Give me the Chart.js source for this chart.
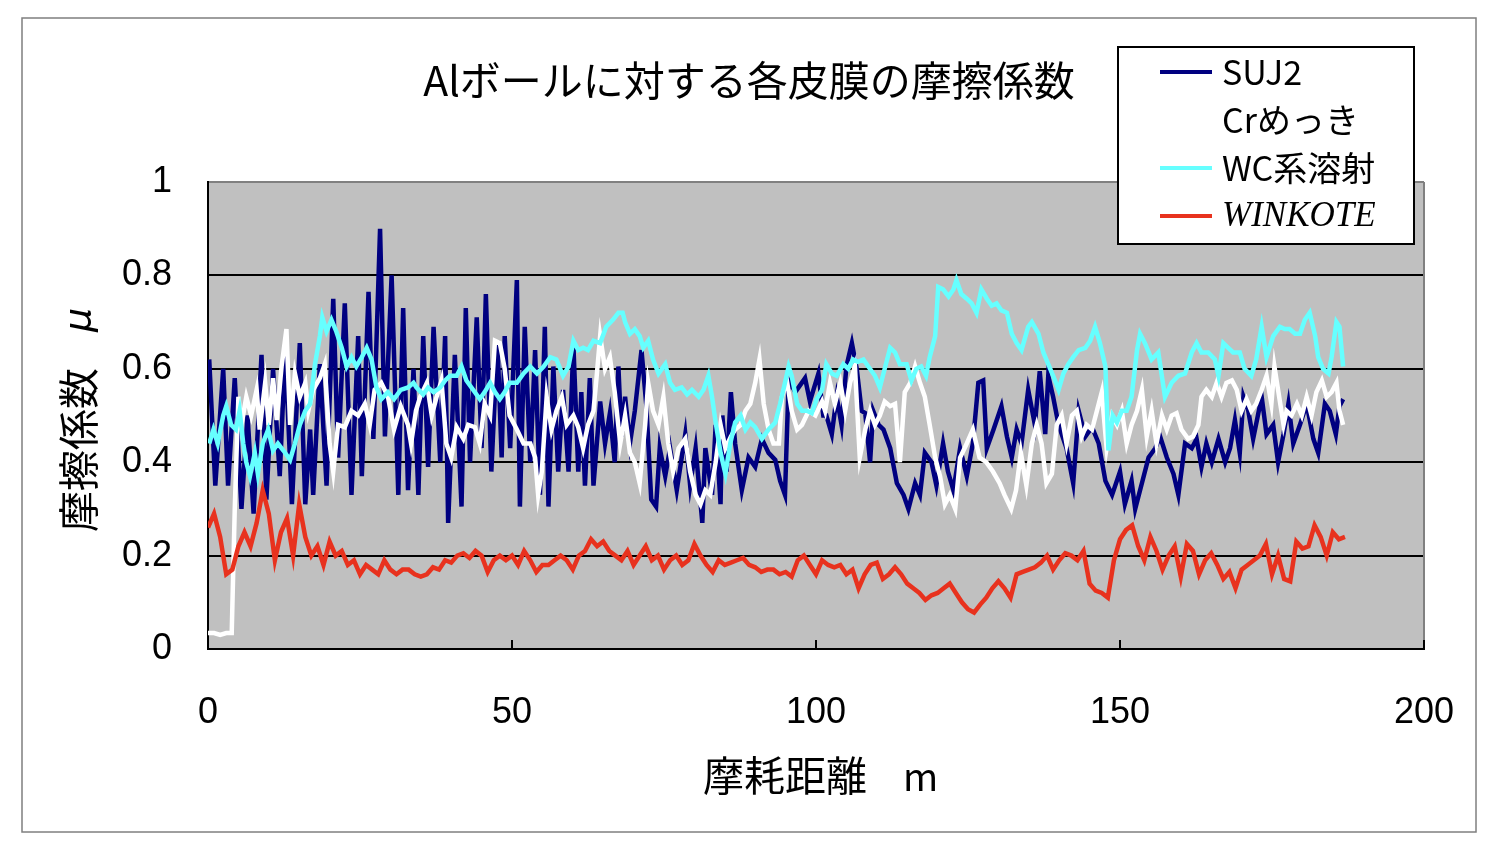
<!DOCTYPE html>
<html><head><meta charset="utf-8">
<script src="https://cdn.jsdelivr.net/npm/chart.js@4.4.1/dist/chart.umd.min.js"></script>
<style>html,body{margin:0;padding:0;background:#fff}#wrap{width:1500px;height:851px}</style>
</head><body><div id="wrap"><canvas id="c" width="1500" height="851"></canvas></div>
<script>
const chartTitle = 'Alボールに対する各皮膜の摩擦係数';
const xTitle = '摩耗距離';
const xUnit = 'm';
const yTitle = '摩擦係数';
const yUnit = 'μ';
const seriesNames = ['SUJ2', 'Crめっき', 'WC系溶射', 'WINKOTE'];
const xTicks = [0, 50, 100, 150, 200];
const yTicks = [0, 0.2, 0.4, 0.6, 0.8, 1];

const sujDist = [0.2,1.2,2.5,3.3,4.4,5.5,6.5,7.5,8.8,9.6,10.7,11.8,12.7,13.8,15.1,16.0,16.8,17.3,18.4,19.5,20.6,21.4,22.5,23.6,24.7,25.3,26.4,27.2,28.3,29.1,30.2,31.3,32.1,32.9,33.8,34.6,35.4,36.2,37.1,38.2,39.0,39.5,40.6,41.7,42.4,43.1,44.2,45.0,45.7,46.6,47.6,48.3,48.8,49.7,50.8,51.3,52.1,53.0,53.8,54.6,55.4,56.0,56.8,57.6,58.4,59.3,60.1,60.9,61.4,62.0,62.8,63.4,64.5,65.3,66.1,66.9,67.5,68.0,68.6,69.4,70.2,71.3,72.1,72.9,73.7,74.3,75.2,76.0,77.1,78.5,79.3,80.2,81.3,81.8,82.9,83.5,84.3,84.6,85.3,86.0,86.7,87.8,88.9,90.0,91.1,92.2,93.3,94.1,94.9,95.5,96.6,98.2,99.0,100.4,101.2,101.7,102.6,103.4,104.2,105.0,105.9,106.7,107.5,108.1,108.9,109.4,110.3,111.1,112.2,113.3,114.4,115.2,116.3,117.1,117.9,119.0,119.8,120.9,121.7,122.6,123.7,124.8,125.8,126.7,127.5,128.1,129.2,130.5,131.4,132.2,133.0,133.8,134.9,136.0,136.8,137.7,138.2,139.0,139.9,141.2,142.3,143.2,144.3,145.4,146.5,147.6,148.7,150.0,150.8,151.9,152.5,153.6,154.7,155.8,156.6,157.7,158.8,159.6,160.7,161.8,162.6,163.4,164.2,165.1,166.2,167.3,168.1,168.9,169.7,170.3,171.1,171.9,173.3,174.1,175.2,176.0,176.9,177.7,178.5,179.6,180.7,181.8,182.6,183.7,184.5,185.5,186.1,186.7];
const sujMu = [0.62,0.35,0.60,0.35,0.58,0.30,0.50,0.29,0.63,0.32,0.60,0.37,0.64,0.31,0.655,0.31,0.47,0.33,0.61,0.35,0.75,0.41,0.74,0.33,0.67,0.37,0.765,0.45,0.90,0.455,0.80,0.33,0.73,0.34,0.60,0.33,0.67,0.39,0.69,0.40,0.67,0.27,0.63,0.305,0.73,0.40,0.71,0.43,0.76,0.38,0.66,0.41,0.67,0.43,0.79,0.305,0.69,0.40,0.64,0.33,0.69,0.305,0.605,0.38,0.555,0.38,0.65,0.38,0.55,0.35,0.58,0.35,0.53,0.44,0.505,0.40,0.605,0.455,0.54,0.44,0.51,0.64,0.52,0.32,0.305,0.43,0.37,0.43,0.34,0.46,0.35,0.43,0.27,0.43,0.33,0.48,0.31,0.50,0.38,0.55,0.44,0.34,0.41,0.39,0.45,0.42,0.405,0.36,0.33,0.575,0.55,0.58,0.53,0.59,0.50,0.50,0.46,0.54,0.48,0.605,0.655,0.60,0.51,0.505,0.40,0.51,0.48,0.47,0.43,0.355,0.33,0.30,0.355,0.33,0.42,0.40,0.35,0.44,0.38,0.34,0.43,0.37,0.44,0.57,0.575,0.43,0.47,0.52,0.455,0.41,0.47,0.44,0.555,0.48,0.595,0.46,0.585,0.54,0.48,0.43,0.355,0.51,0.455,0.475,0.44,0.36,0.33,0.38,0.31,0.36,0.30,0.355,0.41,0.43,0.455,0.41,0.375,0.33,0.44,0.43,0.45,0.39,0.44,0.40,0.45,0.40,0.43,0.49,0.42,0.54,0.51,0.45,0.54,0.46,0.48,0.40,0.46,0.525,0.44,0.48,0.525,0.45,0.42,0.525,0.51,0.46,0.52,0.535];

const crDist = [0,1,2,3,3.9,4.4,5.0,5.5,6.3,7.1,8.0,8.5,9.4,10.0,10.7,11.3,12.1,12.9,13.5,14.3,15.1,16.0,16.5,17.3,18.4,19.2,20.0,20.6,21.4,22.5,23.6,24.7,25.8,26.6,27.4,28.5,29.6,30.6,31.7,32.9,33.4,34.2,34.9,36.0,36.8,37.6,38.4,39.2,40.0,40.9,42.0,42.8,43.9,44.7,45.5,46.4,47.2,48.0,48.8,49.6,50.8,51.9,53.0,53.8,54.3,54.9,55.7,56.5,57.3,58.2,59.0,60.1,60.9,61.7,62.5,63.4,63.9,64.5,65.3,66.1,66.9,67.8,68.6,69.4,70.2,71.0,71.9,72.4,73.2,74.1,74.9,75.7,76.5,77.4,78.5,79.3,80.2,81.0,81.8,82.6,83.5,84.3,85.1,86.0,86.7,87.6,88.4,89.2,90.0,90.7,91.4,92.2,93.0,93.9,94.4,95.2,96.0,96.9,97.7,98.8,99.9,101.0,101.5,102.3,103.1,104.0,104.8,105.6,106.4,107.2,108.1,108.9,109.7,110.5,111.3,112.2,113.0,113.8,114.6,115.5,116.3,117.1,117.9,118.7,119.6,120.4,121.2,122.0,122.9,123.7,124.8,125.8,126.9,128.0,129.1,130.2,131.0,132.1,132.9,133.7,134.6,135.5,136.3,137.1,137.9,138.8,139.6,140.4,141.2,142.1,142.9,143.7,144.5,145.4,146.2,147.0,147.8,148.7,149.5,150.3,151.1,151.9,152.8,153.6,154.4,155.2,156.0,156.9,157.7,158.5,159.3,160.1,161.2,162.0,162.9,163.4,164.2,165.1,165.9,166.7,167.5,168.4,169.2,170.0,170.8,171.6,172.4,173.3,174.1,174.9,175.4,176.0,176.9,177.4,178.2,179.1,179.9,180.7,181.5,182.3,183.2,184.0,184.8,185.6,186.1,186.7];
const crMu = [0.034,0.034,0.03,0.034,0.034,0.30,0.54,0.48,0.54,0.50,0.555,0.47,0.57,0.48,0.58,0.49,0.605,0.685,0.48,0.59,0.54,0.57,0.51,0.555,0.58,0.61,0.44,0.38,0.48,0.475,0.51,0.50,0.525,0.48,0.555,0.57,0.54,0.47,0.52,0.48,0.44,0.51,0.54,0.57,0.50,0.54,0.575,0.44,0.41,0.475,0.45,0.48,0.475,0.44,0.525,0.50,0.66,0.655,0.60,0.50,0.47,0.44,0.44,0.41,0.33,0.38,0.54,0.47,0.51,0.54,0.48,0.50,0.475,0.43,0.48,0.51,0.58,0.67,0.60,0.625,0.55,0.44,0.50,0.42,0.40,0.355,0.48,0.57,0.51,0.48,0.54,0.44,0.38,0.43,0.45,0.38,0.33,0.31,0.34,0.33,0.40,0.48,0.43,0.455,0.47,0.48,0.51,0.525,0.57,0.62,0.525,0.47,0.44,0.44,0.54,0.575,0.51,0.47,0.48,0.51,0.50,0.53,0.51,0.57,0.525,0.57,0.51,0.57,0.605,0.41,0.47,0.51,0.48,0.50,0.53,0.52,0.525,0.40,0.55,0.57,0.605,0.57,0.54,0.48,0.41,0.37,0.31,0.33,0.30,0.41,0.44,0.47,0.41,0.40,0.38,0.355,0.33,0.30,0.34,0.42,0.35,0.44,0.48,0.44,0.355,0.375,0.48,0.50,0.44,0.50,0.51,0.455,0.48,0.47,0.51,0.55,0.43,0.50,0.48,0.51,0.44,0.48,0.51,0.555,0.455,0.51,0.44,0.50,0.47,0.50,0.505,0.47,0.45,0.455,0.48,0.54,0.555,0.54,0.57,0.54,0.57,0.575,0.555,0.51,0.535,0.51,0.525,0.555,0.585,0.525,0.605,0.555,0.48,0.51,0.50,0.525,0.50,0.54,0.50,0.55,0.575,0.54,0.55,0.57,0.51,0.48];

const wcDist = [0.2,0.9,1.6,2.5,3.0,3.8,4.6,5.2,5.8,6.3,6.9,7.7,8.2,9.0,9.9,10.7,11.5,12.4,13.5,14.3,15.1,16.0,16.8,17.6,18.4,18.8,19.5,20.3,21.1,22.0,22.8,23.6,24.4,25.3,26.1,26.9,27.7,28.5,29.6,30.6,31.7,32.9,33.8,34.3,35.4,36.2,37.1,38.2,39.0,39.8,40.9,41.7,42.5,43.6,44.7,45.5,46.4,47.2,48.0,48.8,49.6,50.8,51.9,53.0,54.1,55.2,56.3,57.3,58.4,59.3,60.1,60.9,61.7,62.5,63.4,64.5,65.5,66.6,67.5,68.2,68.6,69.4,70.2,71.0,71.6,72.4,73.2,74.1,75.2,76.0,76.8,77.9,78.8,79.6,80.7,81.5,82.3,82.9,83.5,84.3,85.1,85.9,86.7,87.6,88.4,89.2,90.0,91.1,92.2,93.3,94.1,94.9,95.5,96.0,96.9,97.7,98.5,99.3,100.1,101.0,101.7,102.6,103.4,104.5,105.3,106.1,106.9,107.8,108.6,109.7,110.5,111.3,112.2,113.0,113.8,114.9,115.7,116.5,117.3,118.1,118.7,119.6,120.1,120.9,121.8,122.6,123.1,123.9,124.8,125.6,126.4,127.2,128.1,128.9,129.7,130.5,131.4,132.2,133.0,133.8,134.9,135.5,136.6,137.4,138.2,139.0,139.9,140.7,141.5,142.3,143.2,144.3,145.1,145.9,146.7,147.6,148.1,148.8,149.5,150.3,151.1,151.9,152.8,153.3,154.1,155.2,156.3,157.4,158.5,159.6,160.7,161.8,162.6,163.4,164.5,165.6,166.2,167.0,167.8,168.6,169.7,170.5,171.6,172.4,173.3,174.1,175.2,176.3,177.1,177.9,178.8,179.6,180.4,181.2,182.1,182.6,183.4,184.3,184.8,185.6,186.1,186.7];
const wcMu = [0.44,0.47,0.44,0.50,0.52,0.48,0.47,0.51,0.44,0.40,0.37,0.42,0.375,0.44,0.47,0.425,0.44,0.425,0.405,0.44,0.48,0.51,0.525,0.61,0.67,0.71,0.68,0.705,0.68,0.645,0.605,0.625,0.605,0.625,0.645,0.62,0.56,0.535,0.55,0.535,0.555,0.56,0.57,0.56,0.545,0.56,0.55,0.56,0.575,0.585,0.585,0.605,0.575,0.555,0.535,0.55,0.57,0.55,0.535,0.55,0.57,0.57,0.59,0.605,0.59,0.605,0.625,0.62,0.585,0.605,0.66,0.64,0.645,0.64,0.66,0.655,0.69,0.705,0.72,0.72,0.70,0.675,0.685,0.67,0.645,0.66,0.62,0.59,0.61,0.57,0.555,0.56,0.545,0.555,0.54,0.555,0.585,0.54,0.485,0.42,0.375,0.44,0.485,0.50,0.47,0.485,0.475,0.45,0.47,0.485,0.525,0.57,0.605,0.585,0.525,0.51,0.51,0.505,0.535,0.555,0.61,0.59,0.585,0.61,0.60,0.62,0.615,0.62,0.605,0.585,0.56,0.60,0.645,0.635,0.61,0.61,0.575,0.60,0.605,0.585,0.625,0.67,0.775,0.77,0.755,0.77,0.79,0.76,0.75,0.74,0.72,0.77,0.75,0.735,0.74,0.725,0.72,0.675,0.655,0.64,0.69,0.70,0.675,0.635,0.61,0.585,0.555,0.59,0.61,0.625,0.64,0.645,0.66,0.69,0.655,0.605,0.425,0.50,0.485,0.51,0.51,0.54,0.64,0.675,0.655,0.62,0.635,0.54,0.57,0.585,0.59,0.635,0.655,0.635,0.635,0.62,0.585,0.655,0.645,0.635,0.635,0.60,0.585,0.62,0.69,0.625,0.67,0.69,0.685,0.685,0.675,0.675,0.705,0.72,0.67,0.625,0.60,0.59,0.625,0.70,0.69,0.605];

const winDist = [];
for (let i = 0; i <= 187; i++) winDist.push(i);
const winMu = [0.26,0.29,0.24,0.16,0.17,0.22,0.25,0.22,0.27,0.34,0.29,0.19,0.25,0.28,0.20,0.31,0.24,0.20,0.22,0.18,0.23,0.20,0.21,0.18,0.19,0.16,0.18,0.17,0.16,0.19,0.17,0.16,0.17,0.17,0.16,0.155,0.16,0.175,0.17,0.19,0.185,0.20,0.205,0.195,0.21,0.20,0.165,0.19,0.20,0.19,0.20,0.18,0.21,0.19,0.165,0.18,0.18,0.19,0.20,0.19,0.17,0.20,0.21,0.235,0.22,0.23,0.21,0.20,0.19,0.21,0.18,0.20,0.22,0.19,0.20,0.17,0.19,0.20,0.18,0.19,0.225,0.20,0.18,0.165,0.19,0.18,0.185,0.19,0.195,0.18,0.175,0.165,0.17,0.17,0.16,0.165,0.155,0.19,0.20,0.18,0.16,0.19,0.18,0.175,0.18,0.16,0.17,0.13,0.16,0.18,0.185,0.15,0.16,0.175,0.16,0.14,0.13,0.12,0.105,0.115,0.12,0.13,0.14,0.12,0.10,0.085,0.078,0.095,0.11,0.13,0.145,0.13,0.11,0.16,0.165,0.17,0.175,0.185,0.20,0.17,0.19,0.205,0.20,0.19,0.21,0.14,0.125,0.12,0.11,0.19,0.235,0.255,0.265,0.22,0.19,0.24,0.21,0.17,0.20,0.22,0.155,0.225,0.21,0.16,0.19,0.205,0.18,0.15,0.165,0.13,0.17,0.18,0.19,0.20,0.225,0.16,0.20,0.15,0.145,0.23,0.215,0.22,0.265,0.24,0.20,0.25,0.235,0.24];

const colors = ['#000080', '#ffffff', '#66ffff', '#e8321e'];
const dists = [sujDist, crDist, wcDist, winDist];
const mus = [sujMu, crMu, wcMu, winMu];

const pts = (xs, ys) => xs.map((x, i) => ({x: x, y: ys[i]}));

const datasets = seriesNames.map((name, i) => ({
  label: name,
  data: pts(dists[i], mus[i]),
  borderColor: colors[i],
  backgroundColor: colors[i],
  borderWidth: 4.5,
  pointRadius: 0,
  tension: 0,
  fill: false,
  order: 4 - i,
  borderJoinStyle: 'miter'
}));

const CJK = '"Noto Sans CJK JP", "Noto Sans", sans-serif';

const decor = {
  id: 'decor',
  beforeDraw(chart) {
    const {ctx, chartArea: a} = chart;
    ctx.save();
    ctx.fillStyle = '#ffffff';
    ctx.fillRect(0, 0, chart.width, chart.height);
    ctx.strokeStyle = '#7f7f7f';
    ctx.lineWidth = 1.5;
    ctx.strokeRect(22, 18, 1454, 814);
    ctx.fillStyle = '#c0c0c0';
    ctx.fillRect(a.left, a.top, a.right - a.left, a.bottom - a.top);
    ctx.restore();
  },
  beforeDatasetsDraw(chart) {
    const {ctx, chartArea: a, scales} = chart;
    ctx.save();
    ctx.strokeStyle = '#808080';
    ctx.lineWidth = 2;
    ctx.beginPath();
    ctx.moveTo(a.right, a.top);
    ctx.lineTo(a.right, a.bottom);
    ctx.stroke();
    ctx.strokeStyle = '#000';
    ctx.lineWidth = 2;
    xTicks.forEach(v => {
      if (v === 0) return;
      const px = scales.x.getPixelForValue(v);
      ctx.beginPath();
      ctx.moveTo(px, a.bottom);
      ctx.lineTo(px, a.bottom - 9);
      ctx.stroke();
    });
    ctx.restore();
  },
  afterDraw(chart) {
    const {ctx} = chart;
    ctx.save();
    ctx.fillStyle = '#000';
    ctx.textBaseline = 'middle';
    ctx.font = '41px ' + CJK;
    ctx.textAlign = 'center';
    ctx.fillText(chartTitle, 749, 80);
    ctx.textAlign = 'left';
    ctx.font = '41px ' + CJK;
    ctx.fillText(xTitle, 703, 775);
    ctx.font = '38px ' + CJK;
    ctx.fillText(xUnit, 903, 777);
    ctx.save();
    ctx.translate(78, 532);
    ctx.rotate(-Math.PI / 2);
    ctx.font = '41px ' + CJK;
    ctx.textAlign = 'left';
    ctx.fillText(yTitle, 0, 0);
    ctx.font = 'italic 38px "DejaVu Sans", sans-serif';
    ctx.fillText(yUnit, 200, 2);
    ctx.restore();
    ctx.fillStyle = '#ffffff';
    ctx.fillRect(1118, 47, 296, 197);
    ctx.strokeStyle = '#000';
    ctx.lineWidth = 2;
    ctx.strokeRect(1118, 47, 296, 197);
    seriesNames.forEach((name, i) => {
      const y = 72 + 48 * i;
      ctx.strokeStyle = colors[i];
      ctx.lineWidth = 4;
      ctx.beginPath();
      ctx.moveTo(1160, y);
      ctx.lineTo(1212, y);
      ctx.stroke();
      ctx.fillStyle = '#000';
      ctx.textAlign = 'left';
      ctx.textBaseline = 'middle';
      if (i === 3) {
        ctx.font = 'italic 35px "Liberation Serif", serif';
        ctx.fillText(name, 1222, y + 1);
      } else {
        ctx.font = '34px ' + CJK;
        ctx.fillText(name, 1222, y);
      }
    });
    ctx.restore();
  }
};

new Chart(document.getElementById('c'), {
  type: 'line',
  data: {datasets: datasets},
  options: {
    responsive: false,
    animation: false,
    events: [],
    layout: {padding: {left: 0, right: 76, top: 182, bottom: 0}},
    plugins: {legend: {display: false}, title: {display: false}, tooltip: {enabled: false}},
    scales: {
      x: {
        type: 'linear',
        min: 0, max: 200,
        afterFit(s) { s.height = 202; },
        afterBuildTicks(s) { s.ticks = xTicks.map(v => ({value: v})); },
        ticks: {font: {family: '"Liberation Sans", Arial, sans-serif', size: 36}, color: '#000', padding: 42, maxRotation: 0},
        grid: {display: true, drawOnChartArea: false, drawTicks: false},
        border: {display: true, color: '#000', width: 2}
      },
      y: {
        type: 'linear',
        min: 0, max: 1,
        afterFit(s) { s.width = 208; },
        afterBuildTicks(s) { s.ticks = yTicks.map(v => ({value: v})); },
        ticks: {font: {family: '"Liberation Sans", Arial, sans-serif', size: 36}, color: '#000', padding: 36,
          callback: v => String(v)},
        grid: {drawTicks: false, lineWidth: 2, color: c => (c.tick && c.tick.value === 1) ? '#808080' : '#000'},
        border: {display: true, color: '#000', width: 2}
      }
    }
  },
  plugins: [decor]
});
</script>
</body></html>
